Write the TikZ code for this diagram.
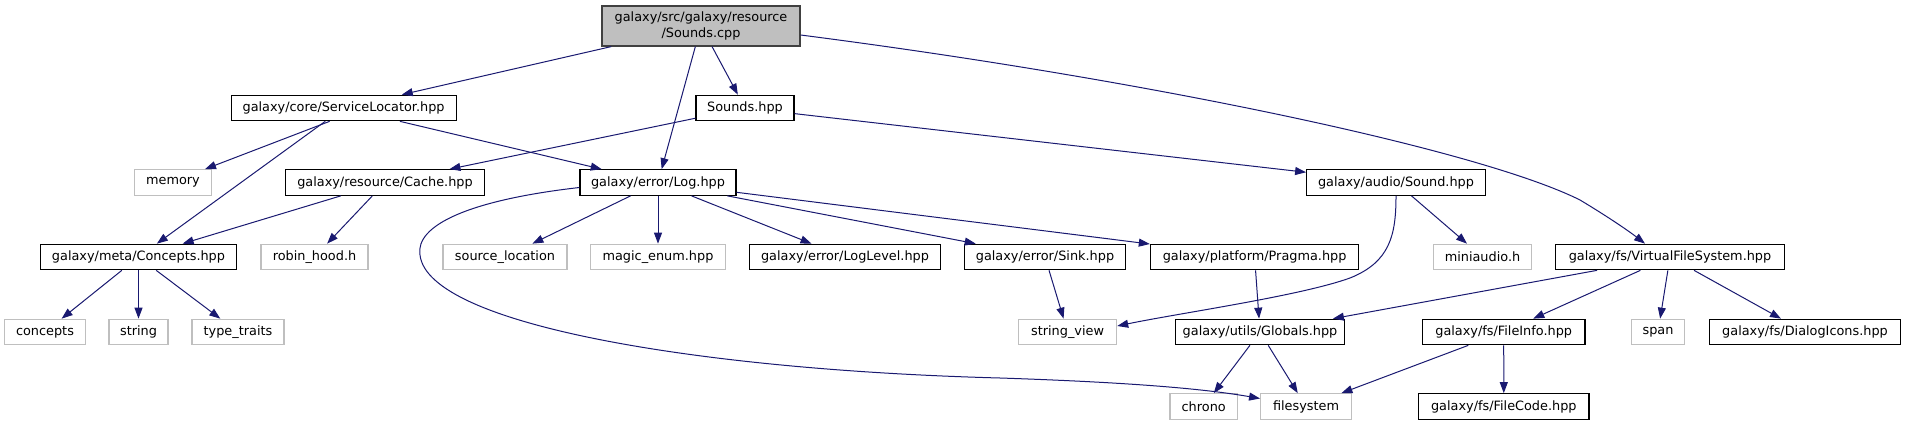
\documentclass[tikz,border=0pt]{standalone}
\usepackage{fontspec}
\setmainfont{DejaVu Sans}
\usepackage{xcolor}
\usepackage{tikz}
\usetikzlibrary{arrows.meta}
\definecolor{edge}{HTML}{191970}
\definecolor{rootfill}{HTML}{BFBFBF}
\definecolor{rootline}{HTML}{404040}
\definecolor{extline}{HTML}{BFBFBF}

\begin{document}
\begin{tikzpicture}[x=1pt, y=-1pt,
  font=\fontsize{12.85}{15.5}\selectfont,
  box/.style={draw=black, line width=1.2pt, fill=white, minimum height=25.5pt,
              inner sep=0pt, align=center},
  ext/.style={box, draw=extline},
  top/.style={box, draw=rootline, fill=rootfill, minimum height=40pt},
  arr/.style={-{Triangle[length=11pt,width=8pt]}, line width=1pt, draw=edge}]
  \useasboundingbox (0,0) rectangle (1906,425);
  % --- file itself
  \node[top, minimum width=198pt] (root) at (701,26) {galaxy/src/galaxy/resource\\/Sounds.cpp};
  % --- rank 1
  \node[box, minimum width=225pt]   (loc)    at (343.6,108) {galaxy/core/ServiceLocator.hpp};
  \node[box, minimum width=98pt]    (sndh)   at (745,108)   {Sounds.hpp};
  % --- rank 2
  \node[ext, minimum width=77pt]    (mem)    at (173,182.5)  {memory};
  \node[box, minimum width=198.6pt] (cache)  at (385,182.5)  {galaxy/resource/Cache.hpp};
  \node[box, minimum width=156pt]   (log)    at (658,182.5)  {galaxy/error/Log.hpp};
  \node[box, minimum width=178.6pt] (sound)  at (1396,182.5) {galaxy/audio/Sound.hpp};
  % --- rank 3
  \node[box, minimum width=196.4pt] (cpt)    at (138.5,257)  {galaxy/meta/Concepts.hpp};
  \node[ext, minimum width=107pt]   (robin)  at (314.5,257)  {robin\_hood.h};
  \node[ext, minimum width=124pt]   (srcloc) at (505,257)    {source\_location};
  \node[ext, minimum width=135pt]   (magic)  at (658,257)    {magic\_enum.hpp};
  \node[box, minimum width=191pt]   (level)  at (845,257)    {galaxy/error/LogLevel.hpp};
  \node[box, minimum width=161.6pt] (sink)   at (1045,257)   {galaxy/error/Sink.hpp};
  \node[box, minimum width=208.4pt] (pragma) at (1254.6,257) {galaxy/platform/Pragma.hpp};
  \node[ext, minimum width=98.3pt]  (mini)   at (1482.5,257) {miniaudio.h};
  \node[box, minimum width=229pt]   (vfs)    at (1670,257)   {galaxy/fs/VirtualFileSystem.hpp};
  % --- rank 4
  \node[ext, minimum width=81pt]    (concepts) at (45,332)   {concepts};
  \node[ext, minimum width=59pt]    (str)    at (138.5,332)  {string};
  \node[ext, minimum width=92pt]    (traits) at (238,332)    {type\_traits};
  \node[ext, minimum width=98pt]    (view)   at (1067.6,332) {string\_view};
  \node[box, minimum width=168.6pt] (glob)   at (1260,332)   {galaxy/utils/Globals.hpp};
  \node[box, minimum width=162.7pt] (finfo)  at (1503.7,332) {galaxy/fs/FileInfo.hpp};
  \node[ext, minimum width=53.5pt]  (span)   at (1658,332)   {span};
  \node[box, minimum width=191.7pt] (dlg)    at (1805,332)   {galaxy/fs/DialogIcons.hpp};
  % --- rank 5
  \node[ext, minimum width=67.3pt]  (chrono) at (1203.7,406.5) {chrono};
  \node[ext, minimum width=90.7pt]  (fsys)   at (1306,406.5)   {filesystem};
  \node[box, minimum width=170.4pt] (fcode)  at (1503.8,406.5) {galaxy/fs/FileCode.hpp};
  % --- includes
  \draw[arr] (root) -- (loc);
  \draw[arr] (root) -- (log);
  \draw[arr] (root) -- (sndh);
  \draw[arr] ([yshift=-9pt]root.east) .. controls (1150,80) and (1480,150) .. (1580,200)
             .. controls (1610,218) and (1630,232) .. ([xshift=-25pt]vfs.north);
  \draw[arr] ([xshift=-14pt]loc.south) -- ([xshift=32pt]mem.north);
  \draw[arr] (loc) -- (cpt);
  \draw[arr] (loc) -- (log);
  \draw[arr] (sndh) -- (cache);
  \draw[arr] (sndh) -- (sound);
  \draw[arr] (cache) -- (cpt);
  \draw[arr] (cache) -- (robin);
  \draw[arr] ([yshift=-5pt]log.west) .. controls (470,200) and (415,225) .. (420,255)
             .. controls (428,325) and (700,370) .. (1000,378)
             .. controls (1120,382) and (1200,388) .. ([yshift=8pt]fsys.west);
  \draw[arr] (log) -- (srcloc);
  \draw[arr] (log) -- (magic);
  \draw[arr] (log) -- (level);
  \draw[arr] (log) -- (sink);
  \draw[arr] (log) -- (pragma);
  \draw[arr] (sound.south) .. controls (1396,235) and (1390,262) .. (1350,278)
             .. controls (1300,296) and (1180,313) .. ([yshift=6pt]view.east);
  \draw[arr] (sound) -- (mini);
  \draw[arr] (cpt) -- (concepts);
  \draw[arr] (cpt) -- (str);
  \draw[arr] (cpt) -- (traits);
  \draw[arr] (sink) -- (view);
  \draw[arr] (pragma) -- (glob);
  \draw[arr] (vfs) -- (glob);
  \draw[arr] (vfs) -- (finfo);
  \draw[arr] (vfs) -- (span);
  \draw[arr] (vfs) -- (dlg);
  \draw[arr] (glob) -- (chrono);
  \draw[arr] (glob) -- (fsys);
  \draw[arr] (finfo) -- (fsys);
  \draw[arr] (finfo) -- (fcode);
\end{tikzpicture}
\end{document}
